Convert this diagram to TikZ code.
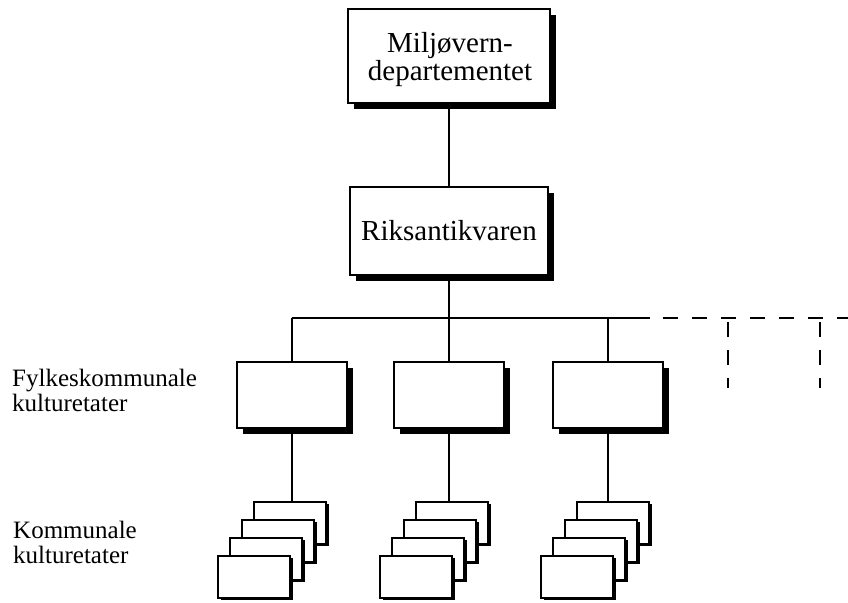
\documentclass[tikz,border=0pt]{standalone}
\usepackage{fontspec}
\setmainfont{Liberation Serif}
\usetikzlibrary{shadows}
\begin{document}
\begin{tikzpicture}[x=1pt,y=-1pt,
  bigbox/.style={draw=black, line width=1.5pt, fill=white, inner sep=0pt,
     drop shadow={shadow xshift=6pt, shadow yshift=-6pt, fill=black, opacity=1}},
  midbox/.style={bigbox, minimum width=110pt, minimum height=66pt},
  card/.style={draw=black, line width=1.5pt, fill=white, inner sep=0pt,
     minimum width=72pt, minimum height=42pt,
     drop shadow={shadow xshift=3pt, shadow yshift=-2pt, fill=black, opacity=1}},
  conn/.style={draw=black, line width=1.1pt},
  dconn/.style={draw=black, line width=1.1pt, dash pattern=on 15pt off 14pt},
  bigtext/.style={font=\fontsize{29}{28}\selectfont, align=center},
  lbl/.style={font=\fontsize{25}{25}\selectfont, align=left, anchor=north west, inner sep=0pt}
]
\useasboundingbox (0,0) rectangle (848,602);

\node[bigbox, minimum width=202pt, minimum height=94pt] (top) at (449,56) {};
\node[bigtext, inner sep=0pt] (toptext) at (450,60) {Miljøvern-\\departementet};
\node[bigbox, bigtext, minimum width=198pt, minimum height=88pt] (rik) at (449,231) {Riksantikvaren};

\node[midbox] (m1) at (292,395) {};
\node[midbox] (m2) at (449,395) {};
\node[midbox] (m3) at (608,395) {};

% card stacks
\foreach \s/\cx in {1/290,2/452,3/613}{
  \foreach \i in {0,1,2,3}{
    \node[card] (c\s\i) at ({\cx-12*\i},{523+18*\i}) {};
  }
}

\coordinate (bus) at (449,318);
\coordinate (solidend) at (650,318);
\coordinate (dstart) at (663,318);
\coordinate (dend) at (848,318);
\coordinate (v1top) at (728,322);
\coordinate (v1bot) at (728,388);
\coordinate (v2top) at (820,322);
\coordinate (v2bot) at (820,388);

\draw[conn] (top) -- (rik);
\draw[conn] (rik.south) -- (bus);
\draw[conn] (m1.north |- bus) -- (solidend);
\draw[conn] (m1.north |- bus) -- (m1.north);
\draw[conn] (bus) -- (m2.north);
\draw[conn] (m3.north |- bus) -- (m3.north);
\draw[conn] (m1.south) -- (m1.south |- c10.north);
\draw[conn] (m2.south) -- (m2.south |- c20.north);
\draw[conn] (m3.south) -- (m3.south |- c30.north);

\draw[dconn] (dstart) -- (dend);
\draw[dconn, dash pattern=on 15pt off 13pt] (v1top) -- (v1bot);
\draw[dconn, dash pattern=on 15pt off 13pt] (v2top) -- (v2bot);

\node[lbl] (fylke) at (12,369) {Fylkeskommunale\\kulturetater};
\node[lbl] (komm) at (13,521) {Kommunale\\kulturetater};
\end{tikzpicture}
\end{document}
